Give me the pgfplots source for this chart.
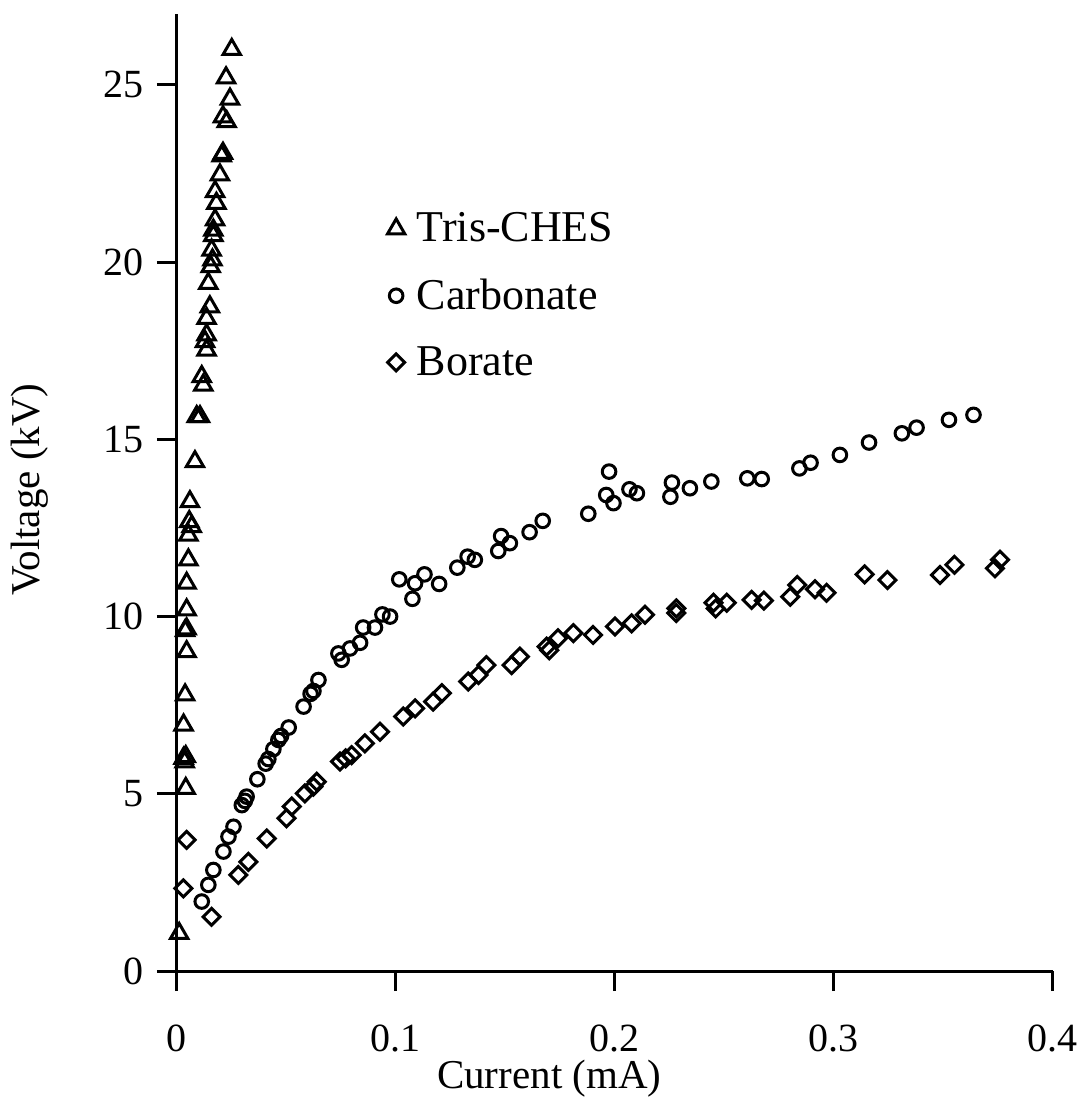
\documentclass[border=0pt]{standalone}
\usepackage{fontspec}
\setmainfont{Liberation Serif}
\usepackage{pgfplots}
\pgfplotsset{compat=1.18}
\begin{document}
\begin{tikzpicture}
\begin{axis}[
  name=ax,
  scale only axis,
  width=438pt, height=478.5pt,
  xmin=0, xmax=0.4, ymin=0, ymax=27,
  axis lines=left,
  axis line style={-, line width=1.5pt},
  xtick={0,0.1,0.2,0.3,0.4},
  ytick={0,5,10,15,20,25},
  xticklabels={0,0.1,0.2,0.3,0.4},
  tick style={line width=1.5pt, black},
  tick align=outside,
  major tick length=10pt,
  /pgf/number format/assume math mode=true,
  tick label style={font=\fontsize{20}{24}\selectfont},
  xticklabel style={yshift=-13.5pt},
  yticklabel style={xshift=-3pt},
  xlabel={Current (mA)},
  ylabel={Voltage (kV)},
  every axis x label/.style={at={(rel axis cs:0.425,0)}, anchor=center, yshift=-54pt, font=\fontsize{20.5}{25}\selectfont},
  every axis y label/.style={at={(rel axis cs:0,0.503)}, anchor=center, xshift=-73.5pt, rotate=90, font=\fontsize{20.5}{25}\selectfont},
  clip=false,
  legend style={draw=none, fill=none, at={(rel axis cs:0.233,0.801)}, anchor=north west,
    font=\fontsize{22}{26}\selectfont, row sep=13pt, legend cell align=left,
    /tikz/every odd column/.append style={column sep=4pt}},
]
\addplot[only marks, mark=triangle, mark size=5pt, mark options={line width=1.5pt, black, fill=none}] coordinates {
(0.0010,1.06) (0.0040,5.15) (0.0035,5.90) (0.0030,6.00) (0.0040,6.05)
(0.0030,6.94) (0.0037,7.79) (0.0044,9.01) (0.0037,9.60) (0.0044,9.65)
(0.0044,10.19) (0.0044,10.94) (0.0052,11.60) (0.0052,12.30) (0.0067,12.54)
(0.0056,12.68) (0.0059,13.24) (0.0082,14.37) (0.0090,15.64) (0.0105,15.64)
(0.0113,16.77) (0.0120,16.53) (0.0128,17.76) (0.0135,17.52) (0.0135,17.95)
(0.0135,18.41) (0.0150,18.74) (0.0143,19.40) (0.0154,19.87) (0.0162,20.06)
(0.0158,20.34) (0.0166,20.75) (0.0166,20.90) (0.0174,21.19) (0.0180,21.66)
(0.0174,21.99) (0.0196,22.46) (0.0204,23.00) (0.0210,23.07) (0.0227,23.96)
(0.0210,24.10) (0.0242,24.60) (0.0224,25.20) (0.0250,26.00)
};
\addlegendentry{Tris-CHES}
\addplot[only marks, mark=o, mark size=3.4pt, mark options={line width=1.5pt, black}] coordinates {
(0.0113,1.96) (0.0143,2.43) (0.0166,2.85) (0.0212,3.37) (0.0235,3.79)
(0.0258,4.07) (0.0296,4.68) (0.0310,4.80) (0.0318,4.92) (0.0367,5.41)
(0.0405,5.85) (0.0417,5.98) (0.0440,6.26) (0.0463,6.52) (0.0475,6.63)
(0.0510,6.87) (0.0578,7.46) (0.0610,7.82) (0.0623,7.90) (0.0646,8.21)
(0.0737,8.96) (0.0752,8.78) (0.0790,9.10) (0.0836,9.26) (0.0850,9.69)
(0.0904,9.69) (0.0938,10.06) (0.0973,10.00) (0.1015,11.05) (0.1075,10.50)
(0.1087,10.94) (0.1130,11.19) (0.1197,10.92) (0.1280,11.38) (0.1327,11.69)
(0.1360,11.60) (0.1467,11.85) (0.1480,12.27) (0.1520,12.07) (0.1610,12.38)
(0.1670,12.70) (0.1878,12.90) (0.1960,13.43) (0.1973,14.09) (0.1993,13.20)
(0.2066,13.59) (0.2100,13.48) (0.2253,13.38) (0.2260,13.78) (0.2342,13.62)
(0.2440,13.81) (0.2604,13.90) (0.2670,13.88) (0.2842,14.18) (0.2893,14.34)
(0.3027,14.56) (0.3160,14.91) (0.3310,15.17) (0.3377,15.33) (0.3525,15.55)
(0.3637,15.69)
};
\addlegendentry{Carbonate}
\addplot[only marks, mark=square, mark size=3pt, mark options={line width=1.5pt, black, rotate=45}] coordinates {
(0.0029,2.33) (0.0044,3.70) (0.0158,1.53) (0.0280,2.71) (0.0326,3.08)
(0.0410,3.74) (0.0500,4.31) (0.0524,4.64) (0.0584,5.01) (0.0623,5.20)
(0.0638,5.34) (0.0744,5.91) (0.0770,6.00) (0.0797,6.09) (0.0858,6.42)
(0.0927,6.75) (0.1033,7.18) (0.1087,7.41) (0.1170,7.60) (0.1210,7.84)
(0.1330,8.17) (0.1377,8.35) (0.1413,8.63) (0.1528,8.63) (0.1566,8.87)
(0.1688,9.15) (0.1700,9.05) (0.1740,9.39) (0.1810,9.53) (0.1900,9.48)
(0.2000,9.72) (0.2076,9.81) (0.2137,10.05) (0.2280,10.23) (0.2280,10.10)
(0.2450,10.39) (0.2460,10.23) (0.2510,10.39) (0.2624,10.47) (0.2680,10.45)
(0.2800,10.56) (0.2832,10.89) (0.2913,10.77) (0.2966,10.67) (0.3140,11.19)
(0.3244,11.03) (0.3484,11.17) (0.3550,11.46) (0.3735,11.36) (0.3758,11.60)
};
\addlegendentry{Borate}
\end{axis}
\pgfresetboundingbox
\path (ax.south west) +(-88.5pt,-64pt) (ax.south west) +(454.5pt,485.5pt);
\end{tikzpicture}
\end{document}
